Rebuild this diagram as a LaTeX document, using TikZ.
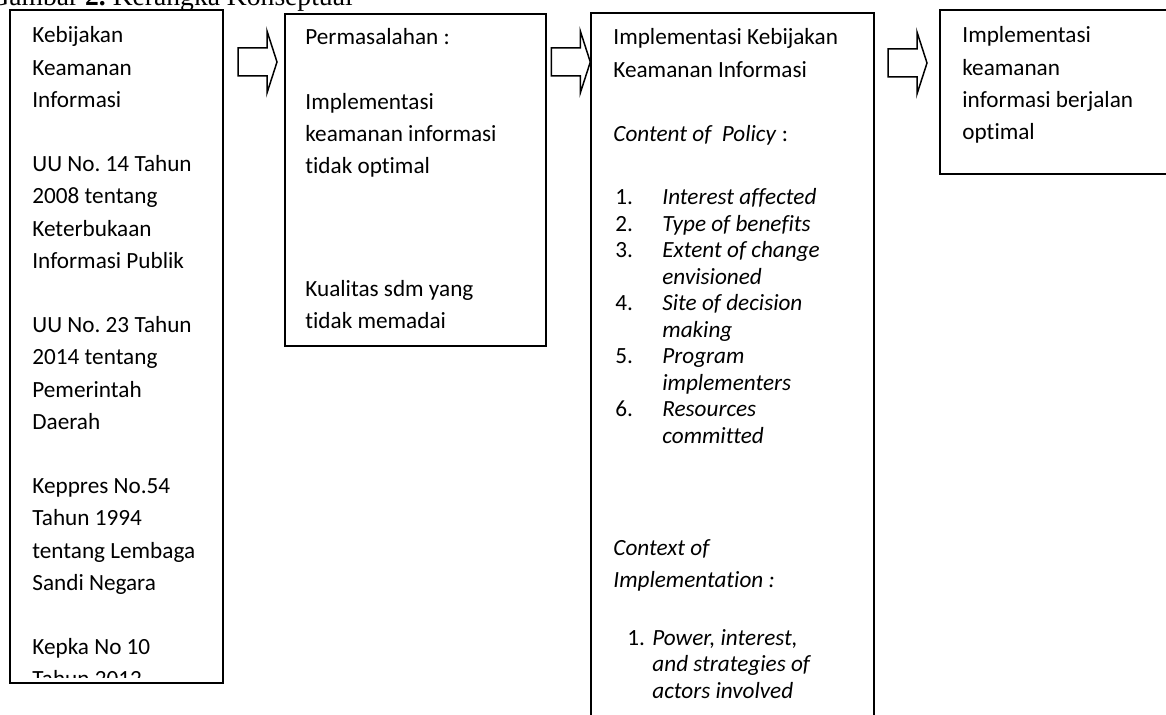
\documentclass[tikz,border=0pt]{standalone}
\usepackage{fontspec}
\setmainfont[Ligatures={NoCommon,NoRare}]{Carlito}
\newfontfamily\judulfont{Liberation Serif}
\usetikzlibrary{fit}
\frenchspacing

% teks berbaris, garis dasar = baris pertama
\newcommand{\baris}[1]{\begin{tabular}[t]{@{}l@{}}#1\end{tabular}}

\begin{document}
\begin{tikzpicture}[x=0.5pt,y=-0.5pt,line join=miter,
    kotak/.style={draw,line width=0.7pt,inner sep=0pt},
    teks/.style={anchor=base west,inner sep=0pt,
      font=\fontsize{11.6}{16.1}\selectfont},
    daftar/.style={teks,font=\fontsize{11.6}{13.25}\selectfont},
    panah/.style={draw,line width=0.75pt,fill=white}]

  % ukuran gambar (piksel: 1166 x 715)
  \useasboundingbox[fill=white] (0,0) rectangle (1166,715);
  \clip (0,0) rectangle (1166,715);

  % bentuk panah blok, digambar dari ujungnya
  \def\panahblok{++(-39,-14) -- ++(29,0) -- ++(0,-17) -- ++(10,31)
    -- ++(-10,31) -- ++(0,-17) -- ++(-29,0) -- cycle}

  % ---- judul (terpotong di tepi atas) ------------------------------------
  \node[anchor=base west,inner sep=0pt,font=\judulfont\fontsize{13.8}{16}\selectfont]
    (judul) at (-11,6) {Gambar \textbf{2.} Kerangka Konseptual};

  % ---- kotak-kotak --------------------------------------------------------
  \node[kotak,fit={(10,10) (223,683)}] (kebijakan) {};
  \node[kotak,fit={(285,14) (546,346)}] (masalah) {};
  \node[kotak,fit={(591,13) (874,730)}] (implementasi) {};
  \node[kotak,fit={(940,10) (1180,174)}] (hasil) {};

  % ---- panah blok ---------------------------------------------------------
  \draw[panah] (277,62) \panahblok;
  \draw[panah] (implementasi.west |- 0,62) \panahblok;
  \draw[panah] (927,63) \panahblok;

  % ---- isi kotak 1 (teks bawah terpotong oleh kotak) ----------------------
  \begin{scope}
    \clip (kebijakan.north west) rectangle ([yshift=3pt]kebijakan.south east);
    \node[teks] (isikebijakan) at (32,43) {\baris{Kebijakan\\ Keamanan\\ Informasi\\[16.1pt]
      UU No. 14 Tahun\\ 2008 tentang\\ Keterbukaan\\ Informasi Publik\\[16.1pt]
      UU No. 23 Tahun\\ 2014 tentang\\ Pemerintah\\ Daerah\\[16.1pt]
      Keppres No.54\\ Tahun 1994\\ tentang Lembaga\\ Sandi Negara\\[16.1pt]
      Kepka No 10\\ Tahun 2012}};
  \end{scope}

  % ---- isi kotak 2 --------------------------------------------------------
  \node[teks] (isimasalah) at (305,45) {\baris{Permasalahan :\\[16.1pt]
    Implementasi\\ keamanan informasi\\ tidak optimal\\[45.3pt]
    Kualitas sdm yang\\ tidak memadai}};

  % ---- isi kotak 3 --------------------------------------------------------
  \node[teks] (judulimpl) at (613,45) {\baris{Implementasi Kebijakan\\ Keamanan Informasi\\[16.1pt]
    \textit{Content of\ \ Policy} :}};
  \node[daftar] (konten) at (615,205) {\baris{%
    \makebox[23.5pt][l]{1.}\textit{Interest affected}\\
    \makebox[23.5pt][l]{2.}\textit{Type of benefits}\\
    \makebox[23.5pt][l]{3.}\textit{Extent of change}\\
    \hspace*{23.5pt}\textit{envisioned}\\
    \makebox[23.5pt][l]{4.}\textit{Site of decision}\\
    \hspace*{23.5pt}\textit{making}\\
    \makebox[23.5pt][l]{5.}\textit{Program}\\
    \hspace*{23.5pt}\textit{implementers}\\
    \makebox[23.5pt][l]{6.}\textit{Resources}\\
    \hspace*{23.5pt}\textit{committed}}};
  \node[teks] (konteks) at (613,555) {\baris{\textit{Context of}\\ \textit{Implementation :}}};
  \node[daftar] (aktor) at (627,645) {\baris{%
    \makebox[12.5pt][l]{1.}\textit{Power, interest,}\\
    \hspace*{12.5pt}\textit{and strategies of}\\
    \hspace*{12.5pt}\textit{actors involved}}};

  % ---- isi kotak 4 --------------------------------------------------------
  \node[teks] (isihasil) at (962,43) {\baris{Implementasi\\ keamanan\\ informasi berjalan\\ optimal}};

\end{tikzpicture}
\end{document}
